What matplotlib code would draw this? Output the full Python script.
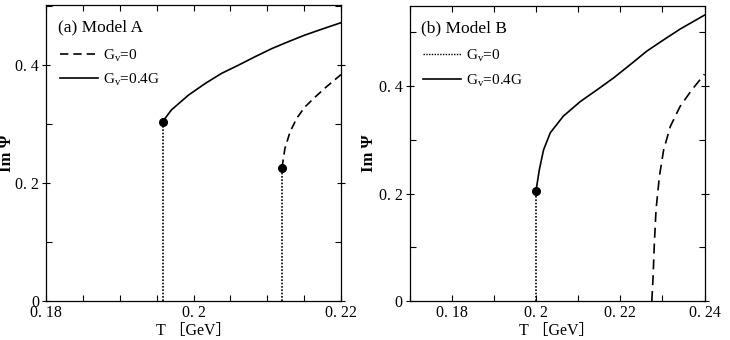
import matplotlib
matplotlib.use("Agg")
import matplotlib.pyplot as plt
from matplotlib.ticker import MultipleLocator, FixedLocator, FixedFormatter
from matplotlib.lines import Line2D

plt.rcParams['font.family'] = ['Liberation Serif', 'Noto Sans CJK SC', 'DejaVu Sans']
plt.rcParams['mathtext.fontset'] = 'custom'
plt.rcParams['mathtext.rm'] = 'Liberation Serif'

# ---- Model A ----
tA_gv04 = [0.1958, 0.1970, 0.1993, 0.2016, 0.2038, 0.2061, 0.2083, 0.2106,
           0.2129, 0.2151, 0.2174, 0.2200]
imA_gv04 = [0.304, 0.324, 0.349, 0.369, 0.386, 0.400, 0.414, 0.428,
            0.440, 0.451, 0.461, 0.472]
tA_gv0 = [0.2120, 0.2124, 0.2131, 0.2140, 0.2151, 0.2165, 0.2180, 0.2200]
imA_gv0 = [0.226, 0.259, 0.287, 0.310, 0.329, 0.346, 0.363, 0.384]
critA_t = [0.1958, 0.2120]
critA_im = [0.304, 0.226]

# ---- Model B ----
tB_gv04 = [0.2000, 0.2008, 0.2018, 0.2034, 0.2065, 0.2105, 0.2145, 0.2184,
           0.2224, 0.2263, 0.2303, 0.2342, 0.2400]
imB_gv04 = [0.204, 0.244, 0.281, 0.313, 0.344, 0.371, 0.393, 0.415,
            0.440, 0.465, 0.486, 0.506, 0.532]
tB_gv0 = [0.2275, 0.2278, 0.2281, 0.2285, 0.2293, 0.2303, 0.2319, 0.2342, 0.2370, 0.2400]
imB_gv0 = [0.000, 0.045, 0.107, 0.170, 0.232, 0.281, 0.325, 0.362, 0.393, 0.422]
critB_t = [0.2000]
critB_im = [0.204]

fig = plt.figure(figsize=(7.3, 3.4), dpi=100)
axA = fig.add_axes([46 / 730, 1 - 301 / 340, 295 / 730, 296 / 340])
axB = fig.add_axes([409.5 / 730, 1 - 301 / 340, 295 / 730, 295 / 340])

lw = 1.2


def style_axis(ax, xmaj, xlabels, xminor, ymax, ylab_x):
    ax.set_ylim(0, ymax)
    ax.xaxis.set_major_locator(FixedLocator(xmaj))
    ax.xaxis.set_major_formatter(FixedFormatter(xlabels))
    ax.xaxis.set_minor_locator(MultipleLocator(xminor))
    ax.yaxis.set_major_locator(FixedLocator([0, 0.2, 0.4]))
    ax.yaxis.set_major_formatter(FixedFormatter(["0", "0. 2", "0. 4"]))
    ax.yaxis.set_minor_locator(MultipleLocator(0.1))
    ax.tick_params(which='both', direction='in', top=True, right=True,
                   length=4, width=0.8, labelsize=11.5)
    ax.tick_params(axis='x', pad=3)
    ax.tick_params(axis='y', which='major', direction='inout', length=6, pad=2)
    for sp in ax.spines.values():
        sp.set_linewidth(0.9)
    ax.set_xlabel("T ［GeV］", fontsize=11.5)
    ax.xaxis.set_label_coords(0.5, -0.075)
    ax.set_ylabel("Im Ψ", fontsize=12, fontweight='bold')
    ax.yaxis.set_label_coords(ylab_x, 0.5)


# Model A
axA.set_xlim(0.18, 0.22)
axA.plot(tA_gv04, imA_gv04, color='black', lw=lw)
axA.plot(tA_gv0, imA_gv0, color='black', lw=lw, dashes=(5, 3))
for t, v in zip(critA_t, critA_im):
    axA.vlines(t, 0, v, colors='black', linestyles=(0, (1, 1)), lw=1.2)
axA.plot(critA_t, critA_im, 'o', color='black', ms=5.5, zorder=5)
style_axis(axA, [0.18, 0.2, 0.22], ["0. 18", "0. 2", "0. 22"], 0.005, 0.502, -0.105)
axA.text(0.04, 0.925, "(a) Model A", transform=axA.transAxes, fontsize=12.5,
         va='center', ha='left')
handlesA = [Line2D([], [], color='black', lw=lw, dashes=(5, 3)),
            Line2D([], [], color='black', lw=lw)]
axA.legend(handlesA, ["G$_{\\rm v}$=0", "G$_{\\rm v}$=0.4G"], loc='upper left',
           bbox_to_anchor=(0.0, 0.905), frameon=False, fontsize=11,
           handlelength=2.5, handletextpad=0.3, labelspacing=0.5)

# Model B
axB.set_xlim(0.17, 0.24)
axB.plot(tB_gv04, imB_gv04, color='black', lw=lw)
axB.plot(tB_gv0, imB_gv0, color='black', lw=lw, dashes=(6, 3.5))
for t, v in zip(critB_t, critB_im):
    axB.vlines(t, 0, v, colors='black', linestyles=(0, (1, 1)), lw=1.2)
axB.plot(critB_t, critB_im, 'o', color='black', ms=5.5, zorder=5)
style_axis(axB, [0.18, 0.2, 0.22, 0.24], ["0. 18", "0. 2", "0. 22", "0. 24"], 0.01, 0.549, -0.11)
axB.text(0.04, 0.925, "(b) Model B", transform=axB.transAxes, fontsize=12.5,
         va='center', ha='left')
handlesB = [Line2D([], [], color='black', lw=1.0, linestyle=(0, (1, 1))),
            Line2D([], [], color='black', lw=lw)]
axB.legend(handlesB, ["G$_{\\rm v}$=0", "G$_{\\rm v}$=0.4G"], loc='upper left',
           bbox_to_anchor=(0.0, 0.905), frameon=False, fontsize=11,
           handlelength=2.5, handletextpad=0.3, labelspacing=0.5)

fig.savefig("out.png", dpi=100)
